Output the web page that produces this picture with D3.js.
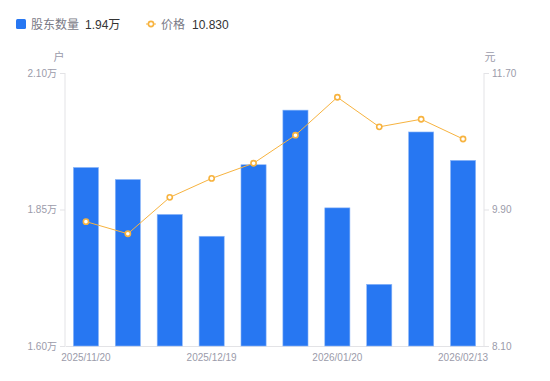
<!DOCTYPE html>
<html>
<head>
<meta charset="utf-8">
<script src="https://cdn.jsdelivr.net/npm/d3@7.9.0/dist/d3.min.js"></script>
<style>
  body { margin: 0; background: #fff; }
  svg { display: block; font-family: "Noto Sans CJK SC", "Noto Sans", sans-serif; }
</style>
</head>
<body>
<div id="chart"></div>
<script>
const dates = ['2025/11/20', '2025/11/28', '2025/12/10', '2025/12/19', '2025/12/31',
               '2026/01/09', '2026/01/20', '2026/01/30', '2026/02/06', '2026/02/13'];
const holders = [1.927, 1.905, 1.841, 1.801, 1.932, 2.032, 1.853, 1.713, 1.992, 1.940]; // 万户
const prices = [9.74, 9.58, 10.06, 10.31, 10.51, 10.88, 11.38, 10.99, 11.09, 10.83];
const leftTicks = [1.60, 1.85, 2.10];
const rightTicks = [8.10, 9.90, 11.70];
const shownDates = ['2025/11/20', '2025/12/19', '2026/01/20', '2026/02/13'];

const width = 550, height = 381;
const margin = { top: 73, right: 66, bottom: 35, left: 65 };
const numFont = '"Liberation Sans", Arial, "Noto Sans CJK SC", sans-serif';

const svg = d3.select('#chart').append('svg')
  .attr('width', width).attr('height', height);

const x = d3.scaleBand()
  .domain(dates)
  .range([margin.left, width - margin.right])
  .paddingInner(0.4).paddingOuter(0.2);

const yL = d3.scaleLinear().domain([1.60, 2.10]).range([height - margin.bottom, margin.top]);
const yR = d3.scaleLinear().domain([8.10, 11.70]).range([height - margin.bottom, margin.top]);

const axisColor = '#e3e3e6';
const labelColor = '#9b9baa';

// left axis
const gl = svg.append('g')
  .attr('transform', `translate(${margin.left},0)`)
  .call(d3.axisLeft(yL).tickValues(leftTicks).tickSize(5).tickPadding(3)
    .tickFormat(d => d.toFixed(2) + '万'));
gl.select('.domain').attr('stroke', axisColor).attr('d', `M0,${margin.top}V${height - margin.bottom}`);
gl.selectAll('line').attr('stroke', axisColor);
gl.selectAll('text').attr('fill', labelColor).style('font-size', '10px')
  .style('font-family', numFont);

// right axis
const gr = svg.append('g')
  .attr('transform', `translate(${width - margin.right},0)`)
  .call(d3.axisRight(yR).tickValues(rightTicks).tickSize(5).tickPadding(3)
    .tickFormat(d3.format('.2f')));
gr.select('.domain').attr('stroke', axisColor).attr('d', `M0,${margin.top}V${height - margin.bottom}`);
gr.selectAll('line').attr('stroke', axisColor);
gr.selectAll('text').attr('fill', labelColor).style('font-size', '10px')
  .style('font-family', numFont);

// bottom axis
const gb = svg.append('g')
  .attr('transform', `translate(0,${height - margin.bottom})`)
  .call(d3.axisBottom(x).tickValues(shownDates).tickSize(0).tickPadding(8));
gb.select('.domain').attr('stroke', axisColor);
gb.selectAll('text').attr('fill', labelColor).style('font-size', '10px')
  .style('font-family', numFont);

// unit labels
svg.append('text').attr('x', 59).attr('y', 61).attr('text-anchor', 'middle')
  .attr('fill', labelColor).style('font-size', '11px').text('户');
svg.append('text').attr('x', 490).attr('y', 61).attr('text-anchor', 'middle')
  .attr('fill', labelColor).style('font-size', '11px').text('元');

// bars
svg.append('g').selectAll('rect')
  .data(holders)
  .join('rect')
  .attr('x', (d, i) => x(dates[i]))
  .attr('y', d => yL(d))
  .attr('width', x.bandwidth())
  .attr('height', d => yL(1.60) - yL(d))
  .attr('fill', '#2777f2')
  .attr('stroke', '#8fb8f8')
  .attr('stroke-width', 0.6);

// price line
const lineColor = '#f7b33f';
const line = d3.line()
  .x((d, i) => x(dates[i]) + x.bandwidth() / 2)
  .y(d => yR(d));
svg.append('path')
  .datum(prices)
  .attr('d', line)
  .attr('fill', 'none')
  .attr('stroke', lineColor)
  .attr('stroke-width', 1);
svg.append('g').selectAll('circle')
  .data(prices)
  .join('circle')
  .attr('cx', (d, i) => x(dates[i]) + x.bandwidth() / 2)
  .attr('cy', d => yR(d))
  .attr('r', 2.6)
  .attr('fill', '#fff')
  .attr('stroke', lineColor)
  .attr('stroke-width', 1.6);

// legend
const lg = svg.append('g').style('font-size', '12px');
lg.append('rect').attr('x', 16).attr('y', 19).attr('width', 10).attr('height', 10)
  .attr('rx', 1.5).attr('fill', '#2777f2');
lg.append('text').attr('x', 31).attr('y', 29).attr('fill', '#7a7a86').text('股东数量');
lg.append('text').attr('x', 85).attr('y', 29).attr('fill', '#333')
  .style('font-family', numFont)
  .text(d3.format('.2f')(holders[holders.length - 1]) + '万');
lg.append('line').attr('x1', 146).attr('x2', 156).attr('y1', 24).attr('y2', 24)
  .attr('stroke', lineColor).attr('stroke-width', 1);
lg.append('circle').attr('cx', 151).attr('cy', 24).attr('r', 2.6)
  .attr('fill', '#fff').attr('stroke', lineColor).attr('stroke-width', 1.6);
lg.append('text').attr('x', 161).attr('y', 29).attr('fill', '#7a7a86').text('价格');
lg.append('text').attr('x', 192).attr('y', 29).attr('fill', '#333')
  .style('font-family', numFont)
  .text(d3.format('.3f')(prices[prices.length - 1]));
</script>
</body>
</html>
